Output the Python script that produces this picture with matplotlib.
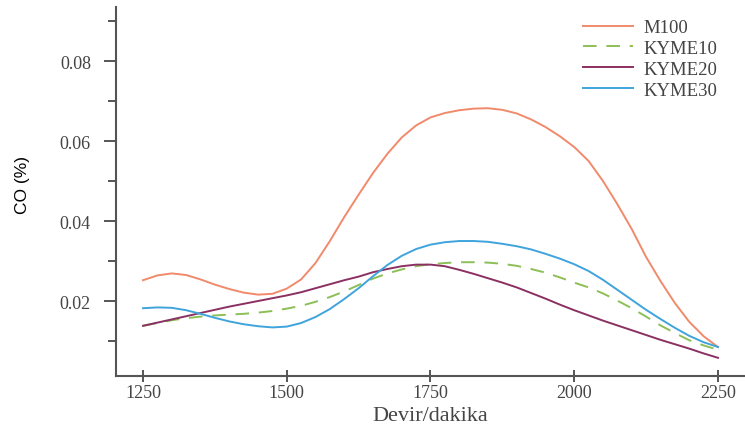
import matplotlib
matplotlib.use("Agg")
import matplotlib.pyplot as plt
from matplotlib.ticker import MultipleLocator

# engine speed (rpm) and CO (%) every 25 rpm
rpm = list(range(1250, 2251, 25))

m100 = [0.0252, 0.0264, 0.0269, 0.0265, 0.0254, 0.0241, 0.0230, 0.0221, 0.0216,
        0.0218, 0.0231, 0.0254, 0.0295, 0.0350, 0.0410, 0.0466, 0.0520, 0.0568,
        0.0609, 0.0639, 0.0659, 0.0670, 0.0677, 0.0681, 0.0682, 0.0678, 0.0669,
        0.0654, 0.0635, 0.0612, 0.0585, 0.0550, 0.0500, 0.0442, 0.0380, 0.0310,
        0.0250, 0.0195, 0.0148, 0.0112, 0.0085]
kyme10 = [0.0138, 0.0145, 0.0152, 0.0157, 0.0161, 0.0164, 0.0166, 0.0168, 0.0171,
          0.0175, 0.0181, 0.0188, 0.0198, 0.0210, 0.0224, 0.0240, 0.0256, 0.0269,
          0.0279, 0.0287, 0.0292, 0.0295, 0.0297, 0.0297, 0.0296, 0.0293, 0.0288,
          0.0280, 0.0271, 0.0259, 0.0246, 0.0234, 0.0219, 0.0201, 0.0182, 0.0161,
          0.0139, 0.0120, 0.0102, 0.0089, 0.0078]
kyme20 = [0.0138, 0.0146, 0.0154, 0.0162, 0.0170, 0.0178, 0.0186, 0.0193, 0.0200,
          0.0207, 0.0214, 0.0222, 0.0232, 0.0242, 0.0252, 0.0261, 0.0272, 0.0280,
          0.0287, 0.0291, 0.0291, 0.0287, 0.0278, 0.0268, 0.0257, 0.0246, 0.0234,
          0.0220, 0.0206, 0.0191, 0.0177, 0.0164, 0.0151, 0.0139, 0.0127, 0.0115,
          0.0103, 0.0092, 0.0081, 0.0069, 0.0058]
kyme30 = [0.0182, 0.0184, 0.0183, 0.0177, 0.0168, 0.0158, 0.0149, 0.0142, 0.0137,
          0.0134, 0.0136, 0.0145, 0.0160, 0.0180, 0.0205, 0.0232, 0.0262, 0.0290,
          0.0313, 0.0330, 0.0341, 0.0347, 0.0350, 0.0350, 0.0348, 0.0343, 0.0337,
          0.0329, 0.0318, 0.0306, 0.0292, 0.0275, 0.0253, 0.0228, 0.0203, 0.0178,
          0.0155, 0.0133, 0.0113, 0.0097, 0.0085]

labels = ['M100', 'KYME10', 'KYME20', 'KYME30']
colors = ['#F08A6B', '#8CBF55', '#8B3062', '#3FA4DC']

fig = plt.figure(figsize=(7.45, 4.39), dpi=100)
ax = fig.add_axes([0.1557, 0.1412, 0.8443, 0.8405])

ax.plot(rpm, m100, color=colors[0], lw=1.4, label=labels[0])
ax.plot(rpm, kyme10, color=colors[1], lw=1.4, ls=(0, (7, 5)), label=labels[1])
ax.plot(rpm, kyme20, color=colors[2], lw=1.4, label=labels[2])
ax.plot(rpm, kyme30, color=colors[3], lw=1.4, label=labels[3])

ax.set_xlim(1203, 2297)
ax.set_ylim(0.00125, 0.0935)
ax.set_xticks([1250, 1500, 1750, 2000, 2250])
ax.yaxis.set_minor_locator(MultipleLocator(0.01))
ax.set_yticks([0.02, 0.04, 0.06, 0.08])
ax.set_yticklabels(['0.02', '0.04', '0.06', '0.08'])

for s in ['top', 'right']:
    ax.spines[s].set_visible(False)
for s in ['left', 'bottom']:
    ax.spines[s].set_color('#555555')
    ax.spines[s].set_linewidth(1.5)

ax.tick_params(axis='y', which='major', direction='out', length=9, width=1.4,
               color='#555555', pad=9)
ax.tick_params(axis='y', which='minor', direction='out', length=6, width=1.4,
               color='#555555')
ax.tick_params(axis='x', which='major', direction='inout', length=8, width=1.4,
               color='#555555', pad=2)
for lab in ax.get_xticklabels() + ax.get_yticklabels():
    lab.set_fontfamily('Liberation Serif')
    lab.set_fontsize(13)
    lab.set_color('#444444')

ax.set_xlabel('Devir/dakika', fontfamily='Liberation Serif', fontsize=16,
              color='#444444', labelpad=3)
fig.text(23 / 745, 1 - 185 / 439, 'CO (%)', rotation=90, ha='center', va='center',
         fontfamily='Liberation Sans', fontsize=12.5, color='black')

leg = ax.legend(loc='upper left', bbox_to_anchor=(583 / 745, 1 - 20 / 439),
                bbox_transform=fig.transFigure, frameon=False, borderpad=0,
                borderaxespad=0, handlelength=2.67, handletextpad=0.53,
                labelspacing=0.2, prop={'family': 'Liberation Serif', 'size': 13.5})
for t in leg.get_texts():
    t.set_color('#444444')

fig.savefig('out.png', dpi=100)
